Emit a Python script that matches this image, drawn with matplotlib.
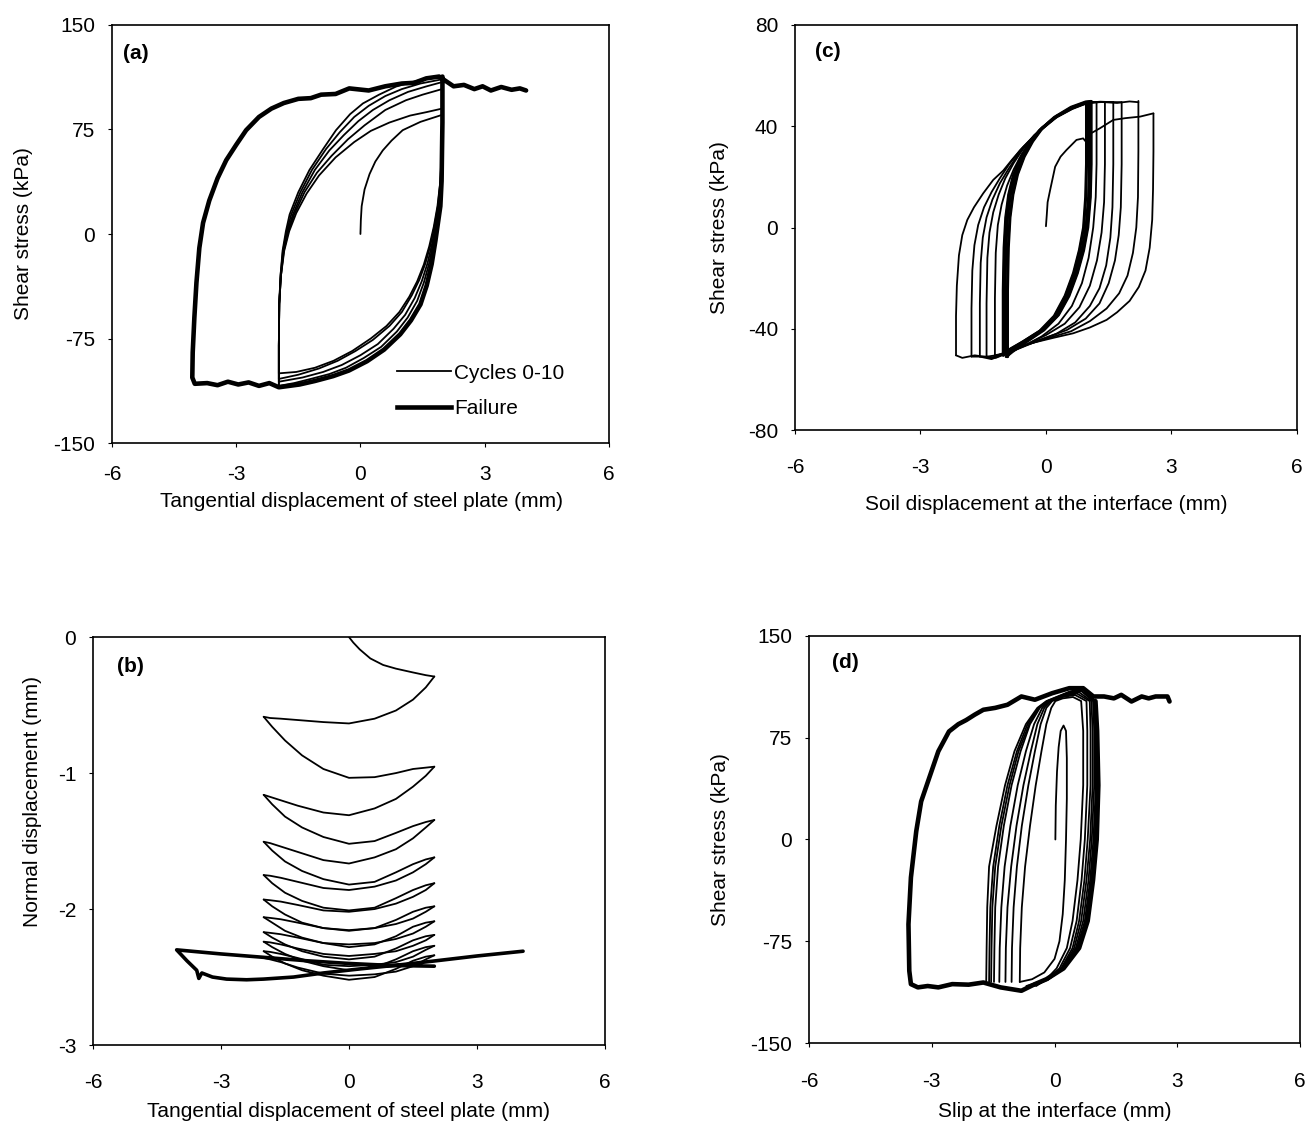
import matplotlib
matplotlib.use("Agg")
import matplotlib.pyplot as plt
from matplotlib.lines import Line2D

plt.rcParams['font.family'] = ['Liberation Sans', 'DejaVu Sans']
plt.rcParams['axes.unicode_minus'] = False

THIN = 1.3
THICK = 3.3

# ---------------- (a) shear stress vs tangential plate displacement ----------------
a_initial = [(0, 0), (0.01, 10), (0.03, 20), (0.1, 32), (0.22, 43), (0.36, 52), (0.54, 60),
             (0.75, 67), (1.02, 74.5), (1.45, 80.5), (1.95, 85.3)]

# unloading branches (plate moving from +2 to -2), one per cycle
a_unload = [
    [(1.97, 85.3), (1.97, 70), (1.96, 55), (1.93, 38), (1.86, 20), (1.77, 5), (1.66, -9), (1.53, -22),
     (1.37, -34), (1.18, -45), (0.94, -56), (0.63, -66), (0.25, -75), (-0.2, -84), (-0.65, -91),
     (-1.1, -96), (-1.55, -99), (-1.97, -100)],
    [(1.97, 104), (1.97, 80), (1.96, 60), (1.93, 38), (1.87, 20), (1.79, 6), (1.69, -8), (1.57, -21),
     (1.42, -33), (1.24, -44), (1.0, -56), (0.7, -66), (0.3, -76), (-0.12, -84), (-0.55, -91),
     (-1.0, -96.5), (-1.5, -101), (-1.97, -104)],
    [(1.97, 109), (1.97, 80), (1.96, 60), (1.94, 38), (1.89, 20), (1.82, 7), (1.73, -7), (1.62, -21),
     (1.48, -34), (1.31, -46), (1.08, -58), (0.8, -68), (0.42, -79), (0.0, -87), (-0.45, -94),
     (-0.9, -99), (-1.4, -103), (-1.97, -106)],
    [(1.97, 111), (1.97, 80), (1.96, 60), (1.94, 38), (1.9, 20), (1.84, 8), (1.76, -6), (1.66, -21),
     (1.53, -35), (1.37, -48), (1.14, -60), (0.88, -70), (0.5, -81), (0.08, -89), (-0.35, -96),
     (-0.75, -100.5), (-1.2, -104), (-1.6, -107), (-1.97, -109)],
    [(1.97, 112), (1.97, 80), (1.96, 60), (1.95, 38), (1.92, 20), (1.87, 9.6), (1.8, -5), (1.71, -21.6),
     (1.58, -37), (1.43, -50.5), (1.2, -62), (0.94, -72), (0.55, -83), (0.14, -91.3), (-0.3, -98),
     (-0.67, -102), (-1.1, -105.5), (-1.47, -108), (-1.97, -110)],
]

# reloading branches (plate moving from -2 to +2)
a_reload = [
    [(-1.97, -100), (-1.97, -80), (-1.96, -50), (-1.92, -30), (-1.84, -12), (-1.72, 2), (-1.55, 15),
     (-1.3, 29), (-1.0, 42), (-0.6, 55), (-0.15, 66), (0.25, 74), (0.7, 80), (1.2, 85), (1.6, 87.5),
     (1.97, 90)],
    [(-1.97, -104), (-1.97, -80), (-1.96, -50), (-1.92, -30), (-1.85, -12), (-1.74, 2), (-1.6, 14),
     (-1.35, 30), (-1.05, 44), (-0.7, 56), (-0.3, 68), (0.1, 78), (0.6, 89), (1.1, 96), (1.5, 100),
     (1.97, 104)],
    [(-1.97, -106), (-1.97, -80), (-1.96, -50), (-1.92, -30), (-1.86, -12), (-1.76, 2), (-1.63, 14),
     (-1.4, 30), (-1.1, 46), (-0.75, 60), (-0.4, 71), (-0.05, 81), (0.3, 89), (0.7, 96), (1.15, 102),
     (1.6, 106), (1.97, 109)],
    [(-1.97, -109), (-1.97, -80), (-1.96, -50), (-1.93, -30), (-1.87, -12), (-1.78, 2), (-1.67, 14),
     (-1.45, 30), (-1.17, 46), (-0.83, 61), (-0.5, 73), (-0.15, 84), (0.2, 92), (0.6, 99), (1.0, 104),
     (1.45, 108), (1.97, 111)],
    [(-1.97, -110), (-1.97, -80), (-1.96, -50), (-1.93, -30), (-1.88, -12), (-1.8, 2), (-1.71, 14),
     (-1.5, 30), (-1.23, 46), (-0.9, 61), (-0.59, 74.5), (-0.25, 86), (0.06, 93.7), (0.45, 100),
     (0.86, 105.8), (1.3, 109.5), (1.7, 112), (1.97, 113)],
]

a_failure = [(1.98, 113), (1.98, 80), (1.97, 60), (1.96, 38), (1.93, 20), (1.88, 9.6), (1.81, -5),
             (1.72, -21.6), (1.6, -37), (1.45, -50.5), (1.22, -62), (0.96, -72), (0.57, -83),
             (0.16, -91.3), (-0.28, -98), (-0.66, -102), (-1.1, -105.5), (-1.47, -108), (-1.97, -110),
             (-2.2, -107), (-2.45, -109), (-2.7, -106.5), (-2.95, -108), (-3.2, -106), (-3.45, -108.5),
             (-3.7, -107), (-4.0, -107.5), (-4.06, -103), (-4.05, -85), (-4.01, -60), (-3.96, -35),
             (-3.89, -10), (-3.8, 8), (-3.65, 24), (-3.45, 40), (-3.24, 53), (-3.0, 64), (-2.76, 74.5),
             (-2.45, 84), (-2.15, 90), (-1.85, 94), (-1.5, 97), (-1.2, 97.5), (-0.95, 100), (-0.6, 100.5),
             (-0.27, 104.5), (0.2, 103), (0.6, 106), (1.0, 108), (1.3, 108.5), (1.59, 111.7), (1.9, 113),
             (2.1, 109), (2.25, 106), (2.5, 107), (2.75, 104), (2.95, 106), (3.15, 103), (3.4, 105.5),
             (3.65, 103.5), (3.85, 104.5), (4.0, 103)]

# ---------------- (b) normal vs tangential displacement ----------------
b_initial = [(0, 0), (0.1, -0.04), (0.25, -0.09), (0.5, -0.157), (0.8, -0.205), (1.1, -0.232),
             (1.5, -0.26), (1.8, -0.28), (2.0, -0.29)]
b_x_rl = [2.0, 1.8, 1.5, 1.1, 0.6, 0.0, -0.6, -1.2, -1.6, -1.85, -2.0]
b_x_lr = [-2.0, -1.8, -1.5, -1.1, -0.6, 0.0, 0.6, 1.1, 1.5, 1.8, 2.0]
b_rl = [
    [-0.29, -0.37, -0.46, -0.54, -0.6, -0.635, -0.625, -0.61, -0.6, -0.595, -0.586],
    [-0.953, -1.02, -1.1, -1.19, -1.26, -1.31, -1.29, -1.24, -1.2, -1.175, -1.16],
    [-1.345, -1.4, -1.48, -1.56, -1.62, -1.665, -1.64, -1.58, -1.54, -1.515, -1.505],
    [-1.62, -1.67, -1.73, -1.79, -1.835, -1.86, -1.845, -1.8, -1.77, -1.755, -1.75],
    [-1.81, -1.86, -1.91, -1.96, -2.0, -2.02, -2.01, -1.97, -1.945, -1.935, -1.93],
    [-1.98, -2.02, -2.07, -2.11, -2.14, -2.155, -2.14, -2.1, -2.075, -2.065, -2.06],
    [-2.09, -2.13, -2.18, -2.22, -2.25, -2.26, -2.25, -2.21, -2.185, -2.175, -2.17],
    [-2.19, -2.23, -2.27, -2.31, -2.33, -2.345, -2.33, -2.29, -2.26, -2.245, -2.24],
    [-2.27, -2.3, -2.35, -2.39, -2.41, -2.42, -2.41, -2.36, -2.33, -2.315, -2.31],
    [-2.34, -2.37, -2.42, -2.46, -2.48, -2.49, -2.475, -2.43, -2.39, -2.37, -2.36],
]
b_lr = [
    [-0.586, -0.66, -0.76, -0.87, -0.97, -1.035, -1.03, -1.0, -0.97, -0.96, -0.953],
    [-1.16, -1.23, -1.32, -1.4, -1.47, -1.52, -1.5, -1.44, -1.39, -1.36, -1.345],
    [-1.505, -1.57, -1.65, -1.72, -1.78, -1.82, -1.8, -1.73, -1.67, -1.635, -1.62],
    [-1.75, -1.81, -1.88, -1.94, -1.99, -2.01, -1.99, -1.92, -1.86, -1.825, -1.81],
    [-1.93, -1.98, -2.04, -2.1, -2.14, -2.16, -2.14, -2.08, -2.02, -1.99, -1.98],
    [-2.06, -2.1, -2.16, -2.21, -2.25, -2.28, -2.26, -2.2, -2.13, -2.1, -2.09],
    [-2.17, -2.21, -2.26, -2.31, -2.35, -2.37, -2.35, -2.29, -2.23, -2.2, -2.19],
    [-2.24, -2.28, -2.33, -2.38, -2.42, -2.45, -2.43, -2.37, -2.31, -2.28, -2.27],
    [-2.31, -2.35, -2.4, -2.45, -2.49, -2.52, -2.5, -2.44, -2.38, -2.35, -2.34],
]
b_failure = [(2.0, -2.42), (1.0, -2.415), (0.0, -2.4), (-1.0, -2.38), (-2.0, -2.355), (-3.0, -2.33),
             (-4.04, -2.3), (-3.8, -2.38), (-3.57, -2.45), (-3.52, -2.51), (-3.45, -2.47), (-3.2, -2.5),
             (-2.87, -2.515), (-2.4, -2.52), (-2.0, -2.515), (-1.3, -2.5), (-0.6, -2.47), (0.26, -2.44),
             (1.2, -2.41), (2.05, -2.38), (3.0, -2.345), (4.08, -2.31)]

# ---------------- (c) shear stress vs soil displacement ----------------
c_initial = [(0.0, 0.5), (0.02, 5), (0.04, 10), (0.1, 14.8), (0.22, 24), (0.35, 28), (0.49, 30.6),
             (0.73, 34.6), (0.89, 35.2), (0.95, 34), (1.0, 36.5), (1.29, 39.2), (1.61, 42.5),
             (1.9, 43.2), (2.25, 43.8), (2.57, 45.1)]
c_down = [
    [(2.57, 45), (2.57, 30), (2.56, 15), (2.54, 3), (2.48, -8), (2.38, -17), (2.22, -23.5), (2.0, -29),
     (1.7, -33.5), (1.45, -36.5), (1.05, -39.5), (0.65, -41.8), (0.2, -43.5), (-0.3, -45.5),
     (-0.7, -47.5), (-1.0, -49.5), (-1.3, -51.5), (-1.7, -50.5), (-2.0, -51.5), (-2.15, -50.5)],
    [(2.21, 50), (2.21, 30), (2.2, 12), (2.16, 0), (2.08, -10), (1.95, -19), (1.75, -26), (1.45, -32),
     (1.05, -37), (0.6, -41), (0.1, -43.5), (-0.4, -46), (-0.8, -48.5), (-1.0, -50), (-1.4, -51),
     (-1.78, -51)],
    [(1.81, 49.5), (1.81, 25), (1.79, 8), (1.74, -3), (1.65, -13), (1.5, -22), (1.28, -30), (0.95, -36),
     (0.5, -40.5), (0.0, -43.5), (-0.5, -46.5), (-1.0, -50), (-1.3, -52), (-1.58, -51)],
    [(1.61, 49.5), (1.61, 25), (1.59, 8), (1.54, -4), (1.44, -15), (1.28, -24), (1.05, -31), (0.7, -37.5),
     (0.25, -42), (-0.3, -45.5), (-0.9, -49.5), (-1.2, -51.5), (-1.42, -51)],
    [(1.41, 49.5), (1.41, 25), (1.39, 10), (1.33, -2), (1.22, -13), (1.05, -23), (0.8, -31.5),
     (0.45, -38), (0.0, -42.5), (-0.5, -46.5), (-0.95, -49.5), (-1.22, -50.5)],
    [(1.21, 49.5), (1.21, 25), (1.19, 12), (1.13, 0), (1.02, -12), (0.86, -22), (0.62, -31), (0.3, -38),
     (-0.1, -43), (-0.55, -47), (-1.02, -50.5)],
    [(0.97, 49.1), (0.97, 25), (0.95, 12), (0.9, 0), (0.8, -9), (0.66, -18), (0.46, -27), (0.2, -35),
     (-0.15, -41), (-0.58, -45.5), (-0.88, -48.5), (-0.98, -50)],
    [(1.04, 49.5), (1.04, 25), (1.02, 12), (0.96, 0), (0.86, -9), (0.71, -18), (0.51, -27), (0.26, -35),
     (-0.1, -40.5), (-0.54, -45.1), (-0.85, -48), (-0.92, -51)],
    [(1.08, 49.8), (1.08, 25), (1.06, 12), (1.0, 0), (0.9, -9), (0.75, -18), (0.55, -27), (0.3, -34.5),
     (-0.05, -40.5), (-0.5, -45.5), (-0.8, -49), (-0.95, -51)],
]
c_up = [
    [(-2.15, -50.5), (-2.15, -35), (-2.13, -23), (-2.08, -11), (-2.0, -3), (-1.88, 3), (-1.72, 8),
     (-1.5, 13.5), (-1.26, 18.8), (-1.02, 22.5), (-0.8, 27), (-0.54, 31.9), (-0.14, 38.5), (0.26, 43.8),
     (0.65, 47.1), (0.97, 49.1), (1.3, 49.6), (1.7, 49.2), (2.0, 49.8), (2.21, 49.5)],
    [(-1.78, -51), (-1.78, -32), (-1.76, -17), (-1.71, -7), (-1.62, 1), (-1.48, 8), (-1.3, 14),
     (-1.1, 19.5), (-0.88, 25), (-0.62, 30.5), (-0.3, 36), (-0.05, 40), (0.3, 44.2), (0.65, 47.3),
     (0.97, 49.3), (1.4, 49.6), (1.81, 49.5)],
    [(-1.58, -51), (-1.58, -30), (-1.56, -14), (-1.51, -4), (-1.42, 4), (-1.28, 11), (-1.1, 17.5),
     (-0.9, 23), (-0.68, 28.5), (-0.4, 34), (-0.1, 39), (0.3, 44.3), (0.65, 47.4), (0.97, 49.3),
     (1.3, 49.7), (1.61, 49.5)],
    [(-1.42, -51), (-1.42, -30), (-1.4, -12), (-1.35, -2), (-1.26, 6), (-1.13, 13), (-0.97, 19.5),
     (-0.77, 25.5), (-0.55, 31), (-0.28, 36.5), (0.0, 40.5), (0.3, 44.4), (0.65, 47.5), (0.97, 49.4),
     (1.41, 49.6)],
    [(-1.22, -50.5), (-1.22, -28), (-1.2, -10), (-1.15, 1), (-1.06, 9), (-0.93, 16.5), (-0.77, 23),
     (-0.58, 29), (-0.36, 34.5), (-0.1, 39.5), (0.26, 44), (0.65, 47.6), (0.97, 49.4), (1.21, 49.6)],
    [(-1.02, -50.5), (-1.02, -25), (-1.0, -8), (-0.96, 4), (-0.89, 13), (-0.78, 20.5), (-0.62, 27),
     (-0.4, 33), (-0.16, 38.2), (0.24, 43.6), (0.62, 47), (0.9, 48.8), (0.97, 49.1)],
    [(-0.98, -50), (-0.98, -25), (-0.96, -8), (-0.92, 4), (-0.85, 13), (-0.74, 20.5), (-0.58, 27.5),
     (-0.36, 33.5), (-0.14, 38.5), (0.1, 42), (0.26, 44), (0.65, 47.5), (0.97, 49.4), (1.04, 49.5)],
    [(-0.92, -51), (-0.92, -25), (-0.9, -8), (-0.86, 4), (-0.79, 13), (-0.68, 21), (-0.52, 28),
     (-0.32, 34), (-0.1, 39), (0.2, 43.5), (0.6, 47.5), (0.95, 49.6), (1.08, 49.8)],
]

# ---------------- (d) shear stress vs slip ----------------
d_initial = [(0.02, 0), (0.03, 25), (0.06, 50), (0.1, 68), (0.15, 80), (0.22, 84), (0.28, 80), (0.3, 60),
             (0.3, 30), (0.28, 0), (0.25, -30), (0.2, -55), (0.12, -75), (0.0, -88), (-0.25, -98),
             (-0.55, -103), (-0.85, -105)]
d_up_y = [-105, -80, -50, -20, 10, 40, 65, 85, 97, 102]
d_dn_y = [102, 80, 40, 0, -30, -60, -80, -95, -103, -108]
d_up_x = [
    [-0.85, -0.84, -0.8, -0.72, -0.6, -0.46, -0.32, -0.2, -0.08, 0.02],
    [-1.05, -1.04, -1.0, -0.92, -0.8, -0.64, -0.48, -0.34, -0.2, -0.06],
    [-1.2, -1.19, -1.15, -1.06, -0.93, -0.76, -0.58, -0.42, -0.25, -0.1],
    [-1.35, -1.34, -1.3, -1.22, -1.08, -0.9, -0.7, -0.5, -0.3, -0.12],
    [-1.48, -1.47, -1.45, -1.38, -1.24, -1.05, -0.83, -0.6, -0.36, -0.15],
    [-1.55, -1.54, -1.52, -1.45, -1.3, -1.1, -0.88, -0.62, -0.38, -0.16],
    [-1.6, -1.59, -1.57, -1.5, -1.35, -1.15, -0.92, -0.66, -0.4, -0.18],
    [-1.67, -1.66, -1.645, -1.6, -1.42, -1.21, -0.98, -0.7, -0.42, -0.2],
]
# crest of each loop between the rising and falling branches
d_top = [
    [(0.2, 104), (0.45, 105)],
    [(0.2, 105), (0.5, 106.5)],
    [(0.25, 106), (0.55, 107.5)],
    [(0.25, 106.5), (0.6, 108.5)],
    [(0.3, 107), (0.65, 109.5)],
    [(0.3, 107.5), (0.65, 110)],
    [(0.35, 108.5), (0.7, 110.5)],
    [(0.37, 109), (0.69, 111.5)],
]
d_dn_x = [
    [0.65, 0.7, 0.7, 0.64, 0.56, 0.44, 0.3, 0.05, -0.2, -0.45],
    [0.78, 0.8, 0.8, 0.74, 0.66, 0.54, 0.38, 0.12, -0.15, -0.5],
    [0.86, 0.88, 0.88, 0.81, 0.73, 0.6, 0.44, 0.16, -0.15, -0.55],
    [0.9, 0.93, 0.93, 0.87, 0.78, 0.65, 0.48, 0.19, -0.15, -0.6],
    [0.94, 0.97, 0.97, 0.91, 0.83, 0.7, 0.52, 0.21, -0.15, -0.6],
    [0.97, 1.0, 1.01, 0.95, 0.87, 0.74, 0.55, 0.23, -0.15, -0.62],
    [0.99, 1.02, 1.03, 0.98, 0.9, 0.77, 0.57, 0.22, -0.17, -0.64],
    [1.0, 1.04, 1.06, 1.01, 0.92, 0.8, 0.58, 0.2, -0.2, -0.69],
]
d_failure = [(1.0, 102), (1.04, 80), (1.07, 40), (1.03, 0), (0.94, -30), (0.81, -60), (0.6, -80),
             (0.22, -95), (-0.2, -103), (-0.48, -106.6), (-0.81, -111.5), (-1.32, -109), (-1.74, -105.4),
             (-2.1, -107), (-2.5, -106.6), (-2.84, -109), (-3.1, -108), (-3.34, -109), (-3.51, -106.6),
             (-3.55, -96.8), (-3.57, -62.5), (-3.51, -28), (-3.38, 6), (-3.26, 28), (-3.09, 43),
             (-2.84, 65), (-2.58, 79.6), (-2.35, 85), (-2.16, 88), (-1.95, 92), (-1.74, 95.6),
             (-1.45, 97), (-1.15, 99.3), (-0.81, 105.4), (-0.48, 103), (-0.06, 107.8), (0.36, 111.5),
             (0.7, 111.5), (0.95, 105.4), (1.21, 105.4), (1.45, 104), (1.63, 106.6), (1.88, 101.7),
             (2.13, 105.4), (2.3, 104), (2.47, 105.4), (2.76, 105.4), (2.81, 101.7)]


def trace(ax, pts, lw=THIN):
    xs, ys = zip(*pts)
    ax.plot(xs, ys, color='black', lw=lw, solid_joinstyle='round', solid_capstyle='round')


def style(ax, yticks, xpad, ypad=9):
    ax.set_xlim(-6, 6)
    ax.set_xticks([-6, -3, 0, 3, 6])
    ax.set_ylim(yticks[0], yticks[-1])
    ax.set_yticks(yticks)
    ax.tick_params(direction='out', length=3, width=0.8, labelsize=15)
    ax.tick_params(axis='x', pad=xpad)
    ax.tick_params(axis='y', pad=ypad)
    for s in ax.spines.values():
        s.set_linewidth(1.2)


fig = plt.figure(figsize=(13.14, 11.31), dpi=100)
ax_a = fig.add_axes([0.0852, 0.6083, 0.3782, 0.3696])
ax_c = fig.add_axes([0.6050, 0.6198, 0.3820, 0.3581])
ax_b = fig.add_axes([0.0708, 0.0760, 0.3896, 0.3607])
ax_d = fig.add_axes([0.6157, 0.0778, 0.3737, 0.3599])

# (a)
trace(ax_a, a_initial)
for dn, up in zip(a_unload, a_reload):
    trace(ax_a, dn)
    trace(ax_a, up)
trace(ax_a, a_failure, THICK)
style(ax_a, [-150, -75, 0, 75, 150], xpad=13)
ax_a.set_xlabel('Tangential displacement of steel plate (mm)', fontsize=15)
ax_a.set_ylabel('Shear stress (kPa)', fontsize=15)
ax_a.xaxis.set_label_coords(0.503, -0.117)
ax_a.yaxis.set_label_coords(-0.159, 0.5)
ax_a.text(0.022, 0.933, '(a)', transform=ax_a.transAxes, fontsize=15, fontweight='bold', va='center')
handles = [Line2D([], [], color='black', lw=THIN), Line2D([], [], color='black', lw=THICK)]
ax_a.legend(handles, ['Cycles 0-10', 'Failure'], loc='upper left', bbox_to_anchor=(0.573, 0.19),
            frameon=False, fontsize=15, handlelength=2.6, handletextpad=0.15, labelspacing=0.8,
            borderpad=0, borderaxespad=0)

# (b)
trace(ax_b, b_initial)
for i, ys in enumerate(b_rl):
    trace(ax_b, list(zip(b_x_rl, ys)))
    if i < len(b_lr):
        trace(ax_b, list(zip(b_x_lr, b_lr[i])))
trace(ax_b, b_failure, 2.6)
style(ax_b, [-3, -2, -1, 0], xpad=17)
ax_b.set_xlabel('Tangential displacement of steel plate (mm)', fontsize=15)
ax_b.set_ylabel('Normal displacement (mm)', fontsize=15)
ax_b.xaxis.set_label_coords(0.5, -0.14)
ax_b.yaxis.set_label_coords(-0.1, 0.596)
ax_b.text(0.047, 0.929, '(b)', transform=ax_b.transAxes, fontsize=15, fontweight='bold', va='center')

# (c)
trace(ax_c, c_initial)
for dn, up in zip(c_down, c_up):
    trace(ax_c, dn)
    trace(ax_c, up)
trace(ax_c, c_down[-1])
for pts in c_down[6:] + c_up[5:]:
    trace(ax_c, pts, 2.2)
style(ax_c, [-80, -40, 0, 40, 80], xpad=17)
ax_c.set_xlabel('Soil displacement at the interface (mm)', fontsize=15)
ax_c.set_ylabel('Shear stress (kPa)', fontsize=15)
ax_c.xaxis.set_label_coords(0.5, -0.16)
ax_c.yaxis.set_label_coords(-0.131, 0.5)
ax_c.text(0.04, 0.935, '(c)', transform=ax_c.transAxes, fontsize=15, fontweight='bold', va='center')

# (d)
trace(ax_d, d_initial)
for ux, top, dx in zip(d_up_x, d_top, d_dn_x):
    trace(ax_d, list(zip(ux, d_up_y)) + top + list(zip(dx, d_dn_y)))
trace(ax_d, d_failure, THICK)
style(ax_d, [-150, -75, 0, 75, 150], xpad=18)
ax_d.set_xlabel('Slip at the interface (mm)', fontsize=15)
ax_d.set_ylabel('Shear stress (kPa)', fontsize=15)
ax_d.xaxis.set_label_coords(0.5, -0.146)
ax_d.yaxis.set_label_coords(-0.161, 0.5)
ax_d.text(0.047, 0.936, '(d)', transform=ax_d.transAxes, fontsize=15, fontweight='bold', va='center')

fig.savefig('out.png', dpi=100, facecolor='white')
